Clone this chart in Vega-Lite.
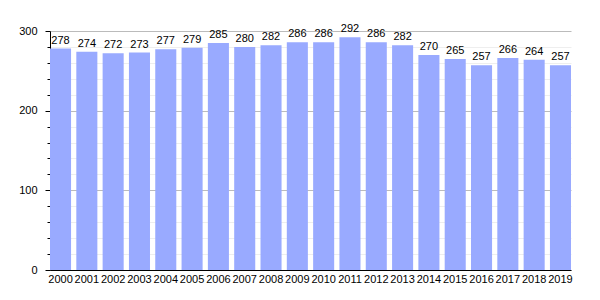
{
  "$schema": "https://vega.github.io/schema/vega-lite/v6.json",
  "width": 521,
  "height": 239,
  "autosize": {"type": "none"},
  "padding": {"left": 50, "top": 31, "right": 29, "bottom": 30},
  "background": "white",
  "config": {
    "view": {"stroke": null},
    "font": "Liberation Sans",
    "axis": {"labelFont": "Liberation Sans", "labelFontSize": 11, "labelColor": "black"}
  },
  "data": {
    "values": [
      {"year": "2000", "value": 278}, {"year": "2001", "value": 274},
      {"year": "2002", "value": 272}, {"year": "2003", "value": 273},
      {"year": "2004", "value": 277}, {"year": "2005", "value": 279},
      {"year": "2006", "value": 285}, {"year": "2007", "value": 280},
      {"year": "2008", "value": 282}, {"year": "2009", "value": 286},
      {"year": "2010", "value": 286}, {"year": "2011", "value": 292},
      {"year": "2012", "value": 286}, {"year": "2013", "value": 282},
      {"year": "2014", "value": 270}, {"year": "2015", "value": 265},
      {"year": "2016", "value": 257}, {"year": "2017", "value": 266},
      {"year": "2018", "value": 264}, {"year": "2019", "value": 257}
    ]
  },
  "encoding": {
    "x": {
      "field": "year", "type": "ordinal",
      "scale": {"paddingInner": 0.2, "paddingOuter": 0},
      "axis": {"title": null, "labelAngle": 0, "ticks": false, "domainColor": "black", "labelPadding": 3, "grid": false}
    },
    "y": {
      "field": "value", "type": "quantitative",
      "scale": {"domain": [0, 300], "nice": false},
      "axis": {
        "title": null,
        "values": [0,20,40,60,80,100,120,140,160,180,200,220,240,260,280,300],
        "labelExpr": "datum.value % 100 === 0 ? datum.label : ''",
        "grid": true,
        "gridColor": {"condition": {"test": "datum.value % 100 === 0", "value": "#bbbbbb"}, "value": "#eeeeee"},
        "tickSize": {"condition": {"test": "datum.value % 100 === 0", "value": 5}, "value": 3},
        "tickColor": "black",
        "domainColor": "black",
        "labelPadding": 8
      }
    }
  },
  "layer": [
    {"mark": {"type": "bar", "color": "#99aaff"}},
    {
      "mark": {"type": "text", "baseline": "alphabetic", "dy": -5, "fontSize": 11, "color": "black", "font": "Liberation Sans"},
      "encoding": {"text": {"field": "value", "type": "quantitative"}}
    }
  ]
}
